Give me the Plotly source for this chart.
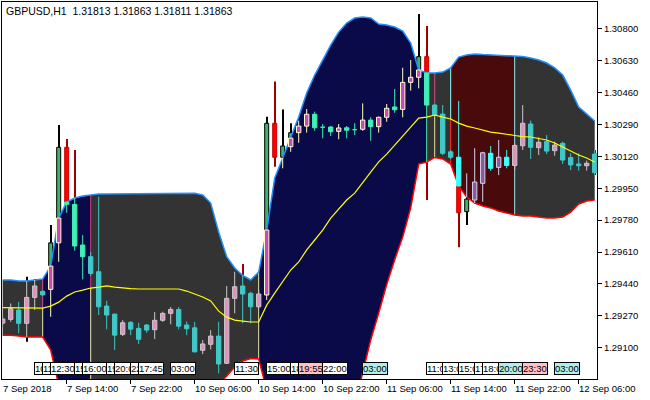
import plotly.graph_objects as go

# ---------------- data (bar index 0 = 7 Sep 06:00, H1) ----------------
bars = list(range(75))

opens = [1.29231, 1.29251, 1.29301, 1.29230, 1.29368, 1.29400, 1.29411, 1.29659, 1.30168, 1.29864,
         1.29647, 1.29585, 1.29505, 1.29322, 1.29279, 1.29171, 1.29235, 1.29203, 1.29221, 1.29196,
         1.29246, 1.29283, 1.29304, 1.29221, 1.29206, 1.29086, 1.29118, 1.29162, 1.29017, 1.29363,
         1.29429, 1.29390, 1.29318, 1.29381, 1.30296, 1.30115, 1.30171, 1.30246, 1.30281, 1.30344,
         1.30278, 1.30276, 1.30253, 1.30272, 1.30265, 1.30264, 1.30313, 1.30278, 1.30328, 1.30383,
         1.30370, 1.30514, 1.30541, 1.30651, 1.30393, 1.30345, 1.30144, 1.30115, 1.29825, 1.29887,
         1.29976, 1.30136, 1.30061, 1.30115, 1.30071, 1.30176, 1.30292, 1.30166, 1.30198, 1.30150,
         1.30189, 1.30113, 1.30079, 1.30070, 1.30132]

highs = [1.29269, 1.29336, 1.29345, 1.29478, 1.29466, 1.29407, 1.29754, 1.30287, 1.30212, 1.30154,
         1.29700, 1.29610, 1.29905, 1.29350, 1.29282, 1.29247, 1.29242, 1.29233, 1.29226, 1.29290,
         1.29292, 1.29317, 1.29317, 1.29240, 1.29238, 1.29141, 1.29194, 1.29238, 1.29429, 1.29505,
         1.29546, 1.29398, 1.29407, 1.30331, 1.30518, 1.30370, 1.30296, 1.30310, 1.30372, 1.30358,
         1.30292, 1.30281, 1.30292, 1.30281, 1.30296, 1.30402, 1.30328, 1.30331, 1.30399, 1.30479,
         1.30592, 1.30633, 1.30878, 1.30814, 1.30399, 1.30393, 1.30154, 1.30415, 1.30029, 1.30163,
         1.30144, 1.30175, 1.30207, 1.30154, 1.30189, 1.30393, 1.30310, 1.30221, 1.30233, 1.30198,
         1.30198, 1.30136, 1.30136, 1.30097, 1.30154]

lows = [1.29215, 1.29238, 1.29177, 1.29132, 1.29301, 1.29375, 1.29265, 1.29558, 1.29819, 1.29617,
        1.29464, 1.29482, 1.29274, 1.29198, 1.29088, 1.29162, 1.29167, 1.29120, 1.29180, 1.29146,
        1.29238, 1.29225, 1.29198, 1.29167, 1.29075, 1.29066, 1.29091, 1.28963, 1.29013, 1.29283,
        1.29230, 1.29230, 1.29311, 1.29354, 1.30065, 1.30056, 1.30144, 1.30192, 1.30246, 1.30256,
        1.30216, 1.30228, 1.30211, 1.30216, 1.30233, 1.30256, 1.30203, 1.30246, 1.30304, 1.30352,
        1.30328, 1.30470, 1.30482, 1.29887, 1.30335, 1.30127, 1.30106, 1.29635, 1.29754, 1.29869,
        1.29878, 1.30042, 1.30020, 1.30056, 1.30047, 1.30154, 1.30106, 1.30127, 1.30132, 1.30123,
        1.30079, 1.30047, 1.30044, 1.30044, 1.30020]

closes = [1.29253, 1.29308, 1.29230, 1.29368, 1.29429, 1.29382, 1.29659, 1.30168, 1.29864, 1.29642,
          1.29585, 1.29496, 1.29318, 1.29274, 1.29167, 1.29233, 1.29199, 1.29145, 1.29194, 1.29246,
          1.29283, 1.29304, 1.29215, 1.29201, 1.29078, 1.29120, 1.29162, 1.29013, 1.29363, 1.29425,
          1.29386, 1.29318, 1.29386, 1.30296, 1.30115, 1.30175, 1.30246, 1.30281, 1.30344, 1.30272,
          1.30275, 1.30251, 1.30271, 1.30259, 1.30262, 1.30313, 1.30278, 1.30328, 1.30376, 1.30368,
          1.30514, 1.30541, 1.30651, 1.30393, 1.30340, 1.30136, 1.30115, 1.29819, 1.29892, 1.29983,
          1.30139, 1.30056, 1.30115, 1.30071, 1.30178, 1.30296, 1.30168, 1.30195, 1.30148, 1.30180,
          1.30100, 1.30074, 1.30070, 1.30083, 1.30033]

upper = [1.29461, 1.29461, 1.29455, 1.29455, 1.29461, 1.29466, 1.29535, 1.29791, 1.29876, 1.29898,
         1.29908, 1.29914, 1.29919, 1.29919, 1.29919, 1.29922, 1.29923, 1.29923, 1.29923, 1.29923,
         1.29923, 1.29923, 1.29923, 1.29923, 1.29923, 1.29914, 1.29871, 1.29716, 1.29585, 1.29525,
         1.29485, 1.29461, 1.29503, 1.29727, 1.30004, 1.30111, 1.30217, 1.30329, 1.30457, 1.30553,
         1.30633, 1.30713, 1.30782, 1.30830, 1.30857, 1.30862, 1.30857, 1.30825, 1.30820, 1.30809,
         1.30788, 1.30724, 1.30580, 1.30564, 1.30564, 1.30569, 1.30591, 1.30649, 1.30660, 1.30665,
         1.30662, 1.30660, 1.30660, 1.30655, 1.30655, 1.30652, 1.30644, 1.30633, 1.30617, 1.30591,
         1.30553, 1.30473, 1.30383, 1.30345, 1.30308]

middle = [1.29314, 1.29314, 1.29311, 1.29311, 1.29311, 1.29311, 1.29322, 1.29343, 1.29375, 1.29397,
          1.29407, 1.29418, 1.29423, 1.29429, 1.29423, 1.29418, 1.29415, 1.29413, 1.29413, 1.29413,
          1.29413, 1.29413, 1.29413, 1.29402, 1.29386, 1.29370, 1.29349, 1.29295, 1.29263, 1.29247,
          1.29242, 1.29237, 1.29237, 1.29327, 1.29391, 1.29455, 1.29514, 1.29557, 1.29621, 1.29674,
          1.29727, 1.29791, 1.29839, 1.29887, 1.29924, 1.29983, 1.30036, 1.30090, 1.30132, 1.30180,
          1.30228, 1.30276, 1.30324, 1.30329, 1.30340, 1.30329, 1.30319, 1.30297, 1.30281, 1.30271,
          1.30260, 1.30249, 1.30244, 1.30236, 1.30231, 1.30225, 1.30223, 1.30215, 1.30207, 1.30191,
          1.30169, 1.30148, 1.30127, 1.30111, 1.30090]

lower = [1.29167, 1.29167, 1.29162, 1.29157, 1.29157, 1.29157, 1.29088, 1.28901, 1.28864, 1.28885,
         1.28901, 1.28917, 1.28917, 1.28917, 1.28912, 1.28906, 1.28901, 1.28901, 1.28901, 1.28901,
         1.28896, 1.28896, 1.28896, 1.28885, 1.28869, 1.28847, 1.28858, 1.28901, 1.28949, 1.28997,
         1.29029, 1.29042, 1.29040, 1.28874, 1.28794, 1.28741, 1.28714, 1.28688, 1.28661, 1.28661,
         1.28672, 1.28688, 1.28714, 1.28768, 1.28794, 1.28960, 1.29141, 1.29285, 1.29437, 1.29569,
         1.29690, 1.29845, 1.30079, 1.30090, 1.30114, 1.30106, 1.30079, 1.29962, 1.29903, 1.29871,
         1.29855, 1.29845, 1.29829, 1.29818, 1.29807, 1.29802, 1.29802, 1.29796, 1.29791, 1.29791,
         1.29796, 1.29823, 1.29866, 1.29882, 1.29887]

# channel segments (bar index ranges) and their fill colours
seg_start = [0, 5, 11, 32, 53, 56, 64]
seg_end = [5, 11, 32, 53, 56, 64, 74]
seg_fill = ['#333333', '#0B0A48', '#333333', '#0B0A48', '#333333', '#480A0A', '#333333']

# candle colouring regime per bar: G = flat (grey), N = up (navy), D = down (dark red)
candle_region = 'G' * 6 + 'N' * 5 + 'G' * 22 + 'N' * 21 + 'G' * 3 + 'D' * 7 + 'G' * 11

# segment change markers
sep_idx = [5, 11, 32, 54, 56, 64]
sep_top = ['#C8468C', '#C8327A', '#E2E29E', '#C8508C', '#80FFFF', '#8CE0E0']
sep_bot = ['#E2E29E', '#E2E29E', '#E2E29E', '#E2E29E', '#FF2828', '#8CE0E0']

# time axis labels
xlab_idx = [0, 8, 16, 24, 32, 40, 48, 56, 64, 72]
xlab_text = ['7 Sep 2018', '7 Sep 14:00', '7 Sep 22:00', '10 Sep 06:00', '10 Sep 14:00',
             '10 Sep 22:00', '11 Sep 06:00', '11 Sep 14:00', '11 Sep 22:00', '12 Sep 06:00']

price_ticks = [1.29100, 1.29270, 1.29440, 1.29610, 1.29780, 1.29950,
               1.30120, 1.30290, 1.30460, 1.30630, 1.30800]

# event tags along the bottom
tag_idx = [4, 5, 6, 9, 10, 13, 14, 16, 17, 21, 29, 33, 36, 37, 40, 45, 53, 55, 57, 59, 60, 62, 65, 69]
tag_text = ['10:00', '11:00', '12:30', '15:00', '16:00', '19:00', '20:00', '22:00', '17:45', '03:00',
            '11:30', '15:00', '18:00', '19:55', '22:00', '03:00', '11:00', '13:00', '15:00', '17:00',
            '18:00', '20:00', '23:30', '03:00']
tag_bg = ['#FFFFFF'] * 13 + ['#FFC0CB', '#FFFFFF', '#AFEEEE', '#FFFFFF', '#FFFFFF', '#FFFFFF',
                              '#FFFFFF', '#FFFFFF', '#AFEEEE', '#FFC0CB', '#AFEEEE']

title_text = 'GBPUSD,H1  1.31813 1.31863 1.31811 1.31863'

# ---------------- styles ----------------
FONT = 'Liberation Sans'
base_style = {'up': ('#3CB371', '#000000', '#000000'),
              'dn': ('#FF0000', '#C80000', '#A00000')}
ind_style = {('G', 'up'): ('#E88CC4', '#C8C8C8', '#C8C8C8'),
             ('G', 'dn'): ('#40C8C8', '#40C8C8', '#40C8C8'),
             ('N', 'up'): ('#C846C8', '#FFFFC0', '#FFFFC0'),
             ('N', 'dn'): ('#40F0B4', '#40F0B4', '#40F0B4'),
             ('D', 'up'): ('#8C5A96', '#D2D2F0', '#D2D2F0'),
             ('D', 'dn'): ('#40FFFF', '#40FFFF', '#40FFFF')}

fig = go.Figure()

# base chart candles (bars; drawn beneath the channel fill)
for d in ['up', 'dn']:
    idx = [i for i in bars if (closes[i] >= opens[i]) == (d == 'up')]
    body, edge, wick = base_style[d]
    fig.add_trace(go.Bar(x=idx, base=[lows[i] for i in idx],
                         y=[highs[i] - lows[i] for i in idx], width=0.125,
                         marker=dict(color=wick, line=dict(width=0)), hoverinfo='skip'))
    fig.add_trace(go.Bar(x=idx, base=[min(opens[i], closes[i]) for i in idx],
                         y=[abs(closes[i] - opens[i]) for i in idx], width=0.5,
                         marker=dict(color=body, line=dict(color=edge, width=1)), hoverinfo='skip'))

# channel fills per segment (closed polygon upper -> lower)
for a, b, col in zip(seg_start, seg_end, seg_fill):
    xs = bars[a:b + 1]
    fig.add_trace(go.Scatter(x=xs + xs[::-1], y=upper[a:b + 1] + lower[a:b + 1][::-1],
                             mode='lines', line=dict(width=0, color=col), fill='toself',
                             fillcolor=col, hoverinfo='skip'))

# segment markers
for i, ct, cb in zip(sep_idx, sep_top, sep_bot):
    fig.add_trace(go.Scatter(x=[i, i], y=[upper[i], middle[i]], mode='lines',
                             line=dict(color=ct, width=1), hoverinfo='skip'))
    fig.add_trace(go.Scatter(x=[i, i], y=[middle[i], lower[i]], mode='lines',
                             line=dict(color=cb, width=1), hoverinfo='skip'))

# channel borders
fig.add_trace(go.Scatter(x=bars, y=upper, mode='lines', line=dict(color='#1E90FF', width=1.5),
                         hoverinfo='skip'))
fig.add_trace(go.Scatter(x=bars, y=lower, mode='lines', line=dict(color='#FF0000', width=1.5),
                         hoverinfo='skip'))

# indicator candles inside the channel
hw = 0.27
for key, (body, edge, wick) in ind_style.items():
    reg, d = key
    wx, wy, bx, by = [], [], [], []
    for i in bars:
        if candle_region[i] != reg or ((closes[i] >= opens[i]) != (d == 'up')):
            continue
        lo_w, hi_w = max(lows[i], lower[i]), min(highs[i], upper[i])
        if hi_w > lo_w:
            wx += [i, i, None]
            wy += [lo_w, hi_w, None]
        lo_b = max(min(opens[i], closes[i]), lower[i])
        hi_b = min(max(opens[i], closes[i]), upper[i])
        if hi_b >= lo_b:
            bx += [i - hw, i + hw, i + hw, i - hw, i - hw, None]
            by += [lo_b, lo_b, hi_b, hi_b, lo_b, None]
    fig.add_trace(go.Scatter(x=wx, y=wy, mode='lines', line=dict(color=wick, width=1),
                             hoverinfo='skip'))
    fig.add_trace(go.Scatter(x=bx, y=by, mode='lines', fill='toself', fillcolor=body,
                             line=dict(color=edge, width=1), hoverinfo='skip'))

# middle line
fig.add_trace(go.Scatter(x=bars, y=middle, mode='lines', line=dict(color='#FFFF00', width=1.2),
                         hoverinfo='skip'))

annotations = []
annotations.append(dict(text=title_text, xref='paper', yref='paper', x=0, y=1,
                        xanchor='left', yanchor='top', xshift=2, yshift=-1, showarrow=False,
                        font=dict(family=FONT, size=10.5, color='black')))
for i, t in zip(xlab_idx, xlab_text):
    annotations.append(dict(text=t, xref='x', yref='paper', x=i, y=0, xanchor='left',
                            yanchor='top', xshift=-2, yshift=-2, showarrow=False,
                            font=dict(family=FONT, size=9.5, color='black')))
for i, t, bg in zip(tag_idx, tag_text, tag_bg):
    annotations.append(dict(text=t, xref='x', yref='paper', x=i, y=0.028, xanchor='left',
                            yanchor='middle', xshift=-1, showarrow=False, bgcolor=bg,
                            bordercolor='black', borderwidth=1, borderpad=0,
                            font=dict(family=FONT, size=9.5, color='black')))

fig.update_layout(
    width=650, height=400,
    margin=dict(l=2, r=53, t=2, b=21),
    plot_bgcolor='white', paper_bgcolor='white',
    showlegend=False, barmode='overlay', hovermode=False,
    font=dict(family=FONT, size=9.5, color='black'),
    annotations=annotations,
)
fig.update_xaxes(range=[-0.0875, 74.2875], showgrid=False, zeroline=False,
                 showline=True, mirror=True, linecolor='black', linewidth=1,
                 ticks='outside', ticklen=4, tickcolor='black', tickwidth=1,
                 tickvals=xlab_idx[1:], showticklabels=False)
fig.update_yaxes(range=[1.289333, 1.309423], side='right', showgrid=False, zeroline=False,
                 showline=True, mirror=True, linecolor='black', linewidth=1,
                 ticks='outside', ticklen=4, tickcolor='black', tickwidth=1,
                 tickvals=price_ticks, tickformat='.5f',
                 tickfont=dict(family=FONT, size=9.5, color='black'))

fig.write_html('out.html', config={'displayModeBar': False},
               post_script="document.body.style.margin='0px';")
